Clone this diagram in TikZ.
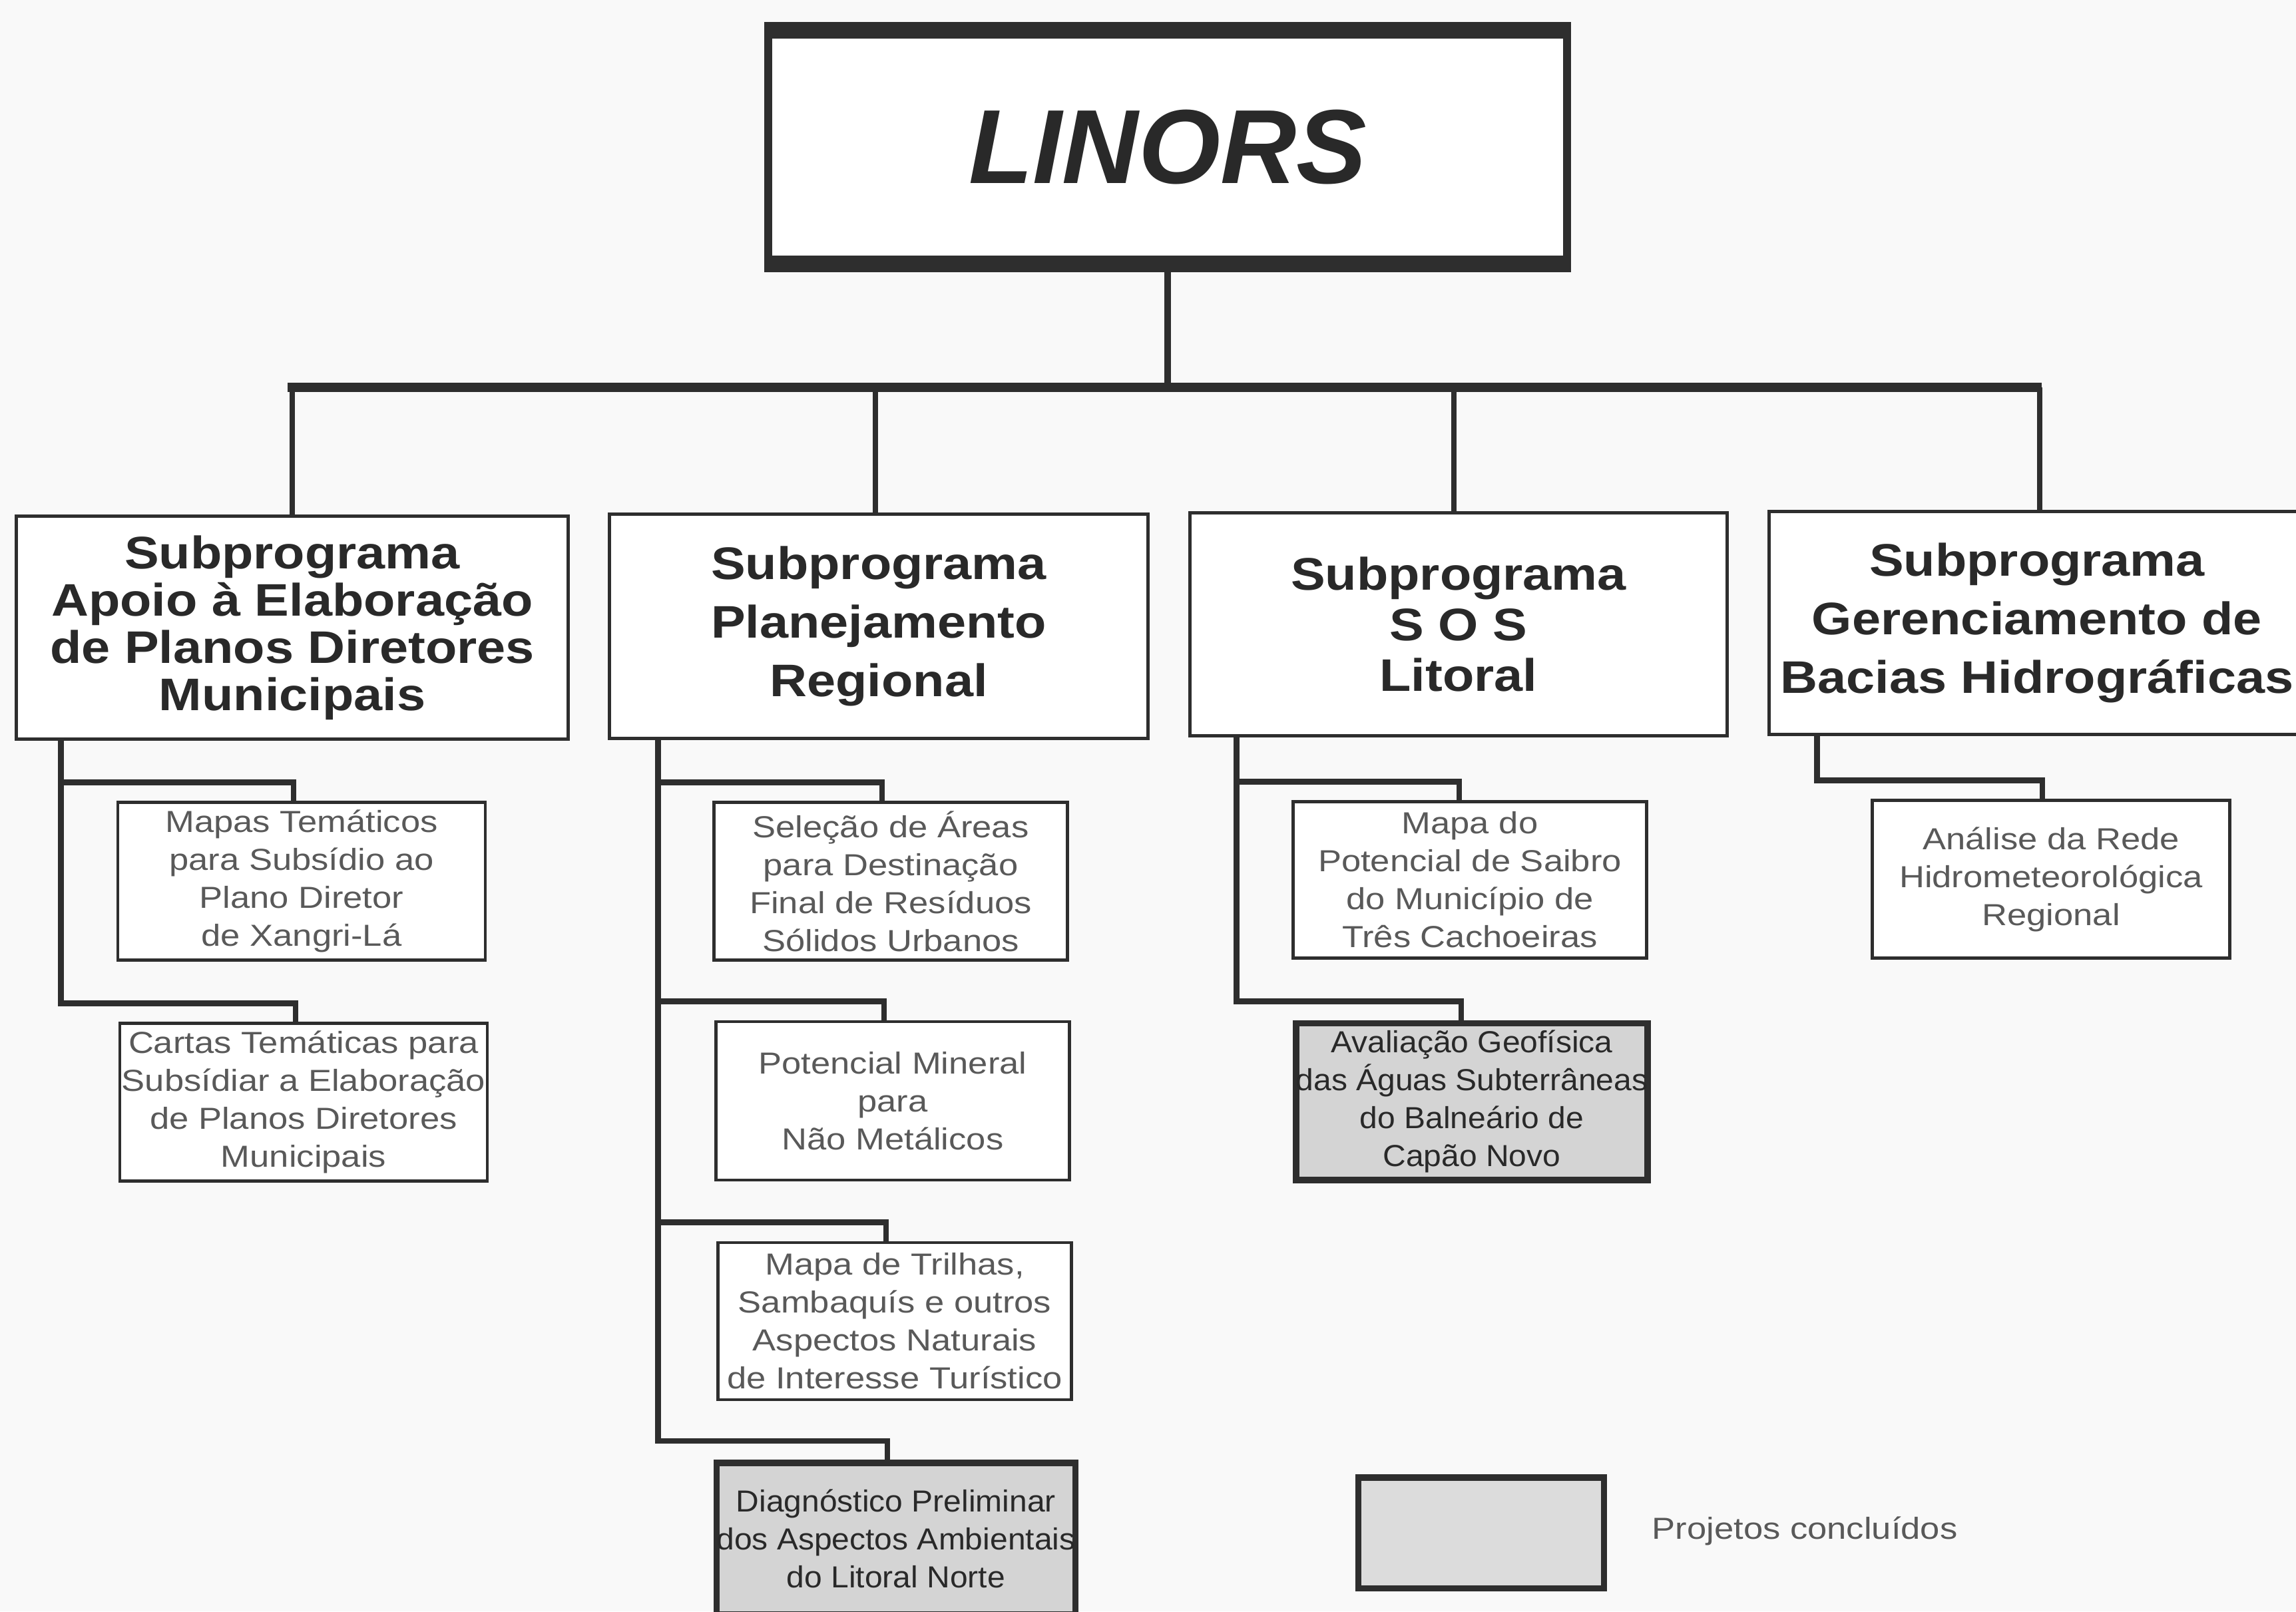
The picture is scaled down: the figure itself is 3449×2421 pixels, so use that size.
\documentclass[tikz,border=0pt]{standalone}
\usepackage{fontspec}
\setmainfont{Liberation Sans}
\newfontfamily\titlefont[FakeStretch=1.13]{Liberation Sans}
\newfontfamily\childfont[FakeStretch=1.15]{Liberation Sans}
\newfontfamily\shadefont[FakeStretch=1.05]{Liberation Sans}
\definecolor{ln}{gray}{0.18}
\definecolor{tt}{gray}{0.16}
\definecolor{ct}{gray}{0.35}
\definecolor{bg}{gray}{0.975}
\definecolor{sh}{gray}{0.83}
\begin{document}
\begin{tikzpicture}[x=0.01cm,y=-0.01cm,
  lnk/.style={draw=ln,line width=2.5pt},
  barline/.style={draw=ln,line width=4pt,line cap=rect},
  dropline/.style={draw=ln,line width=2.3pt},
  subbox/.style={draw=ln,line width=1.42pt,fill=white,inner sep=0pt,align=center,text=tt},
  childbox/.style={draw=ln,line width=1.3pt,fill=white,inner sep=0pt,align=center,text=ct,
    font=\childfont\fontsize{13}{16.2}\selectfont},
  donebox/.style={draw=ln,line width=2.8pt,fill=sh,inner sep=0pt,align=center,text=tt,
    font=\shadefont\fontsize{13}{16.2}\selectfont}
]
\useasboundingbox (0,0) rectangle (3449,2421);
\fill[bg] (0,0) rectangle (3449,2421);

% top node
\node[draw=ln,line width=3.41pt,fill=white,minimum width=12.0cm,minimum height=3.64cm,
  inner sep=0pt,text=tt,font=\bfseries\itshape\fontsize{45}{50}\selectfont] (linors) at (1754,221) {LINORS};
\fill[ln] (linors.north west) rectangle ([yshift=-0.25cm]linors.north east);
\fill[ln] (linors.south west) rectangle ([yshift=0.25cm]linors.south east);

% subprogram boxes
\node[subbox,minimum width=8.29cm,minimum height=3.34cm,
  font=\titlefont\bfseries\fontsize{19.5}{20.2}\selectfont] (s1) at (439,943)
  {Subprograma\\Apoio à Elaboração\\de Planos Diretores\\Municipais};
\node[subbox,minimum width=8.09cm,minimum height=3.36cm,
  font=\titlefont\bfseries\fontsize{19.5}{25}\selectfont] (s2) at (1320,941)
  {Subprograma\\Planejamento\\Regional};
\node[subbox,minimum width=8.07cm,minimum height=3.35cm,
  font=\titlefont\bfseries\fontsize{19.5}{21.6}\selectfont] (s3) at (2191,938)
  {Subprograma\\S O S\\Litoral};
\node[subbox,minimum width=8.05cm,minimum height=3.34cm,
  font=\titlefont\bfseries\fontsize{19.5}{25}\selectfont] (s4) at (3060,936)
  {Subprograma\\Gerenciamento de\\Bacias Hidrográficas};

% bar and drops
\coordinate (bary) at (0,582);
\draw[dropline,line width=3pt] (linors.south) -- (linors.south |- bary);
\draw[barline] (s1.north |- bary) -- (s4.north |- bary);
\draw[dropline] (s1.north |- bary) -- (s1.north);
\draw[dropline] ([xshift=-0.05cm]s2.north |- bary) -- ([xshift=-0.05cm]s2.north);
\draw[dropline] ([xshift=-0.07cm]s3.north |- bary) -- ([xshift=-0.07cm]s3.north);
\draw[dropline] ([xshift=0.04cm]s4.north |- bary) -- ([xshift=0.04cm]s4.north);

% child boxes
\node[childbox,minimum width=5.52cm,minimum height=2.37cm] (c1a) at (453,1324)
  {Mapas Temáticos\\para Subsídio ao\\Plano Diretor\\de Xangri-Lá};
\node[childbox,minimum width=5.52cm,minimum height=2.37cm] (c1b) at (456,1656)
  {Cartas Temáticas para\\Subsídiar a Elaboração\\de Planos Diretores\\Municipais};
\node[childbox,minimum width=5.31cm,minimum height=2.37cm] (c2a) at (1338,1324)
  {Seleção de Áreas\\para Destinação\\Final de Resíduos\\Sólidos Urbanos};
\node[childbox,minimum width=5.31cm,minimum height=2.38cm] (c2b) at (1341,1654)
  {Potencial Mineral\\para\\Não Metálicos};
\node[childbox,minimum width=5.31cm,minimum height=2.36cm] (c2c) at (1344,1985)
  {Mapa de Trilhas,\\Sambaquís e outros\\Aspectos Naturais\\de Interesse Turístico};
\node[donebox,minimum width=5.27cm,minimum height=2.28cm] (c2d) at (1346,2312)
  {Diagnóstico Preliminar\\dos Aspectos Ambientais\\do Litoral Norte};
\node[childbox,minimum width=5.31cm,minimum height=2.35cm] (c3a) at (2208,1322)
  {Mapa do\\Potencial de Saibro\\do Município de\\Três Cachoeiras};
\node[donebox,minimum width=5.28cm,minimum height=2.35cm] (c3b) at (2211,1655)
  {Avaliação Geofísica\\das Águas Subterrâneas\\do Balneário de\\Capão Novo};
\node[childbox,minimum width=5.37cm,minimum height=2.37cm] (c4a) at (3081,1321)
  {Análise da Rede\\Hidrometeorológica\\Regional};

% child connectors
\draw[lnk] ([xshift=0.7cm]s1.south west) |- ([xshift=-0.12cm,yshift=0.28cm]c1a.north) -- ([xshift=-0.12cm]c1a.north);
\draw[lnk] ([xshift=0.7cm]s1.south west) |- ([xshift=-0.12cm,yshift=0.28cm]c1b.north) -- ([xshift=-0.12cm]c1b.north);
\draw[lnk] ([xshift=0.76cm]s2.south west) |- ([xshift=-0.13cm,yshift=0.28cm]c2a.north) -- ([xshift=-0.13cm]c2a.north);
\draw[lnk] ([xshift=0.76cm]s2.south west) |- ([xshift=-0.13cm,yshift=0.28cm]c2b.north) -- ([xshift=-0.13cm]c2b.north);
\draw[lnk] ([xshift=0.76cm]s2.south west) |- ([xshift=-0.13cm,yshift=0.28cm]c2c.north) -- ([xshift=-0.13cm]c2c.north);
\draw[lnk] ([xshift=0.76cm]s2.south west) |- ([xshift=-0.13cm,yshift=0.28cm]c2d.north) -- ([xshift=-0.13cm]c2d.north);
\draw[lnk] ([xshift=0.73cm]s3.south west) |- ([xshift=-0.16cm,yshift=0.28cm]c3a.north) -- ([xshift=-0.16cm]c3a.north);
\draw[lnk] ([xshift=0.73cm]s3.south west) |- ([xshift=-0.16cm,yshift=0.28cm]c3b.north) -- ([xshift=-0.16cm]c3b.north);
\draw[lnk] ([xshift=0.75cm]s4.south west) |- ([xshift=-0.13cm,yshift=0.28cm]c4a.north) -- ([xshift=-0.13cm]c4a.north);

% legend
\node[draw=ln,line width=2.6pt,fill=sh!80!white,minimum width=3.68cm,minimum height=1.66cm,inner sep=0pt] (legbox) at (2225,2303) {};
\node[anchor=west,inner sep=0pt,text=ct,font=\childfont\fontsize{13}{16.2}\selectfont] (legtext) at (2481,2300) {Projetos concluídos};
\end{tikzpicture}
\end{document}
